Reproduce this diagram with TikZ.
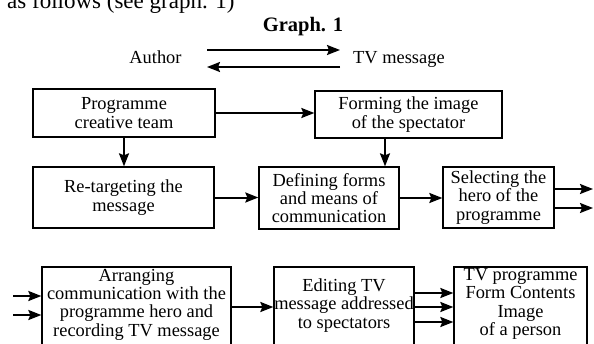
\documentclass[tikz,border=0pt]{standalone}
\usepackage{fontspec}
\setmainfont{Liberation Serif}
\usetikzlibrary{arrows.meta}
\newcommand\mybodyfont{\fontsize{18.4}{18.3}\selectfont}
\begin{document}
\begin{tikzpicture}[x=1pt,y=-1pt,
  box/.style={draw, line width=1.3pt, inner sep=0pt, align=center, font=\mybodyfont},
  txt/.style={inner sep=0pt, align=center, font=\mybodyfont},
  arr/.style={line width=2pt, -{Stealth[length=13pt,width=10pt,inset=2pt]}}]
\useasboundingbox (0,0) rectangle (594,343);
\clip (0,0) rectangle (594,343);

\node[anchor=base west, inner sep=0pt, font=\fontsize{23}{26}\selectfont] (intro) at (7,8) {as follows (see graph. 1)};
\node[anchor=base, inner sep=0pt, font=\fontsize{20.5}{24}\selectfont\bfseries] (title) at (303,31) {Graph. 1};
\node[txt, anchor=base] (author) at (155.5,63) {Author};
\node[txt, anchor=base west] (tv) at (353,63) {TV message};
\coordinate (a1) at (207,50); \coordinate (a2) at (340,50);
\coordinate (a3) at (340,67); \coordinate (a4) at (207,67);
\draw[arr] (a1) -- (a2);
\draw[arr] (a3) -- (a4);

\node[box, minimum width=182pt, minimum height=48pt] (b1) at (124,113) {Programme\\creative team};
\node[box, minimum width=187pt, minimum height=47pt] (b2) at (408.5,114.5) {Forming the image\\of the spectator};
\node[box, minimum width=181pt, minimum height=61pt] (b3) at (123.5,197.5) {Re-targeting the\\message};
\node[box, minimum width=140pt, minimum height=62pt] (b4) at (329,198) {Defining forms\\and means of\\communication};
\node[box, minimum width=111pt, minimum height=61pt] (b5) at (498.5,197.5) {Selecting the\\hero of the\\programme};

\node[box, minimum width=189pt, minimum height=80pt] (b6) at (136.5,307) {};
\node[txt] (t6) at (136.5,304.5) {Arranging\\communication with the\\programme hero and\\recording TV message};
\node[box, minimum width=140pt, minimum height=80pt] (b7) at (344,307) {};
\node[txt] (t7) at (344,305.5) {Editing TV\\message addressed\\to spectators};
\node[box, minimum width=133pt, minimum height=80pt] (b8) at (520.5,307) {};
\node[txt] (t8) at (520.5,304) {TV programme\\Form Contents\\Image\\of a person};

\draw[arr] (b1.east) -- (b1.east -| b2.west);
\draw[arr] (b1.south) -- (b1.south |- b3.north);
\draw[arr] ([xshift=-23.5pt]b2.south) -- ([xshift=-23.5pt]b2.south |- b4.north);
\draw[arr] (b3.east) -- (b3.east -| b4.west);
\draw[arr] (b4.east) -- (b4.east -| b5.west);
\coordinate (o1) at (593,189); \coordinate (o2) at (593,208);
\draw[arr] (b5.east |- o1) -- (o1);
\draw[arr] (b5.east |- o2) -- (o2);

\coordinate (i1) at (13,296); \coordinate (i2) at (13,315);
\draw[arr] (i1) -- (i1 -| b6.west);
\draw[arr] (i2) -- (i2 -| b6.west);
\draw[arr] (b6.east) -- (b6.east -| b7.west);
\draw[arr] ([yshift=14pt]b7.east) -- ([yshift=14pt]b7.east -| b8.west);
\draw[arr] (b7.east) -- (b7.east -| b8.west);
\draw[arr] ([yshift=-15pt]b7.east) -- ([yshift=-15pt]b7.east -| b8.west);
\end{tikzpicture}
\end{document}
